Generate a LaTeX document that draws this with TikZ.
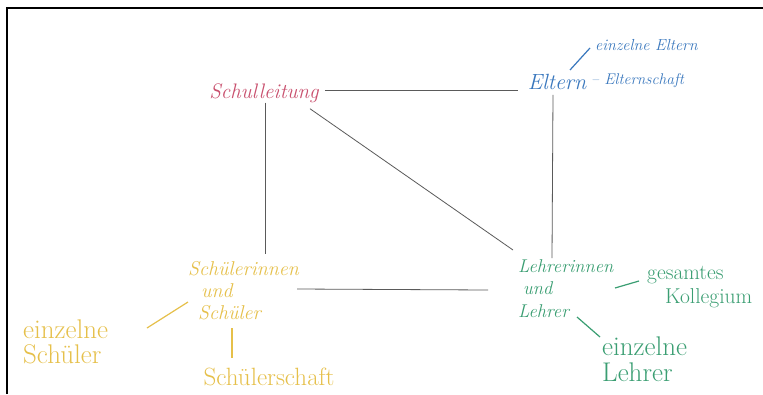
\documentclass[tikz,border=0pt]{standalone}
\usepackage{fontspec}
\usetikzlibrary{calc}
\definecolor{cred}{HTML}{C9506E}
\definecolor{cblue}{HTML}{3A78BE}
\definecolor{cyel}{HTML}{E6C04A}
\definecolor{cgreen}{HTML}{3A9E72}
\definecolor{cline}{HTML}{5A5A5A}
\begin{document}
\begin{tikzpicture}[x=1pt,y=-1pt,
  lbl/.style={inner sep=0pt},
  conn/.style={draw=cline,line width=0.8pt},
  subc/.style={line width=1.2pt}]
\useasboundingbox (0,0) rectangle (763,394);
\fill[white] (0,0) rectangle (763,394);
\draw[line width=2.5pt] (7,394) -- (7,8) -- (763,8);
% main nodes
\node[lbl,text=cred,font=\itshape\fontsize{21}{24}\selectfont] (sl) at (264,93) {Schulleitung};
\node[lbl,text=cblue,font=\itshape\fontsize{22}{24}\selectfont] (el) at (557,82) {Eltern};
\node[lbl,text=cblue,font=\itshape\fontsize{15.5}{18}\selectfont,anchor=west] (elts) at (591,81) {-- Elternschaft};
\node[lbl,text=cblue,font=\itshape\fontsize{16}{18}\selectfont,anchor=west] (elte) at (595,45) {einzelne Eltern};
\node[lbl,text=cyel,font=\itshape\fontsize{20}{22}\selectfont,align=left,anchor=north west] (sus) at (188,261) {Schülerinnen\\\hspace{13pt}und\\\hspace{10pt}Schüler};
\node[lbl,text=cyel,font=\fontsize{27}{25}\selectfont,align=left,anchor=north west] (ess) at (23,320) {einzelne\\Schüler};
\node[lbl,text=cyel,font=\fontsize{25}{24}\selectfont] (ssch) at (269,377) {Schülerschaft};
\node[lbl,text=cgreen,font=\itshape\fontsize{18.5}{22.5}\selectfont,align=left,anchor=north west] (lul) at (518,259) {Lehrerinnen\\\hspace{5pt}und\\Lehrer};
\node[lbl,text=cgreen,font=\fontsize{21.5}{24}\selectfont,align=left,anchor=north west] (gk) at (647,266) {gesamtes\\\hspace{18pt}Kollegium};
\node[lbl,text=cgreen,font=\fontsize{27}{26}\selectfont,align=left,anchor=north west] (el2) at (602,337) {einzelne\\Lehrer};
% main connectors
\draw[conn] ($(sl.east)+(6,-3)$) -- ($(el.west)+(-10,8)$);
\draw[conn] ($(sl.south)+(1,0)$) -- ($(sus.north west)+(77,-7)$);
\draw[conn] ($(el.south)+(-4,5)$) -- ($(lul.north west)+(34,-1)$);
\draw[conn] ($(sl.south)+(46,6)$) -- ($(lul.north west)+(-5,-9)$);
\draw[conn] ($(sus.north west)+(109,28)$) -- ($(lul.north west)+(-30,31)$);
% sub connectors
\draw[subc,draw=cblue] ($(elte.west)+(-25,25)$) -- ($(elte.west)+(-5,3)$);
\draw[subc,draw=cyel] ($(ess.north west)+(124,8)$) -- ($(sus.north west)+(0,41)$);
\draw[subc,draw=cyel] ($(sus.north west)+(44,67)$) -- ($(ssch.center)+(-37,-19)$);
\draw[subc,draw=cgreen] ($(lul.north west)+(97,29)$) -- ($(gk.north west)+(-8,15)$);
\draw[subc,draw=cgreen] ($(lul.north west)+(59,58)$) -- ($(el2.north west)+(-2,0)$);
\end{tikzpicture}
\end{document}
